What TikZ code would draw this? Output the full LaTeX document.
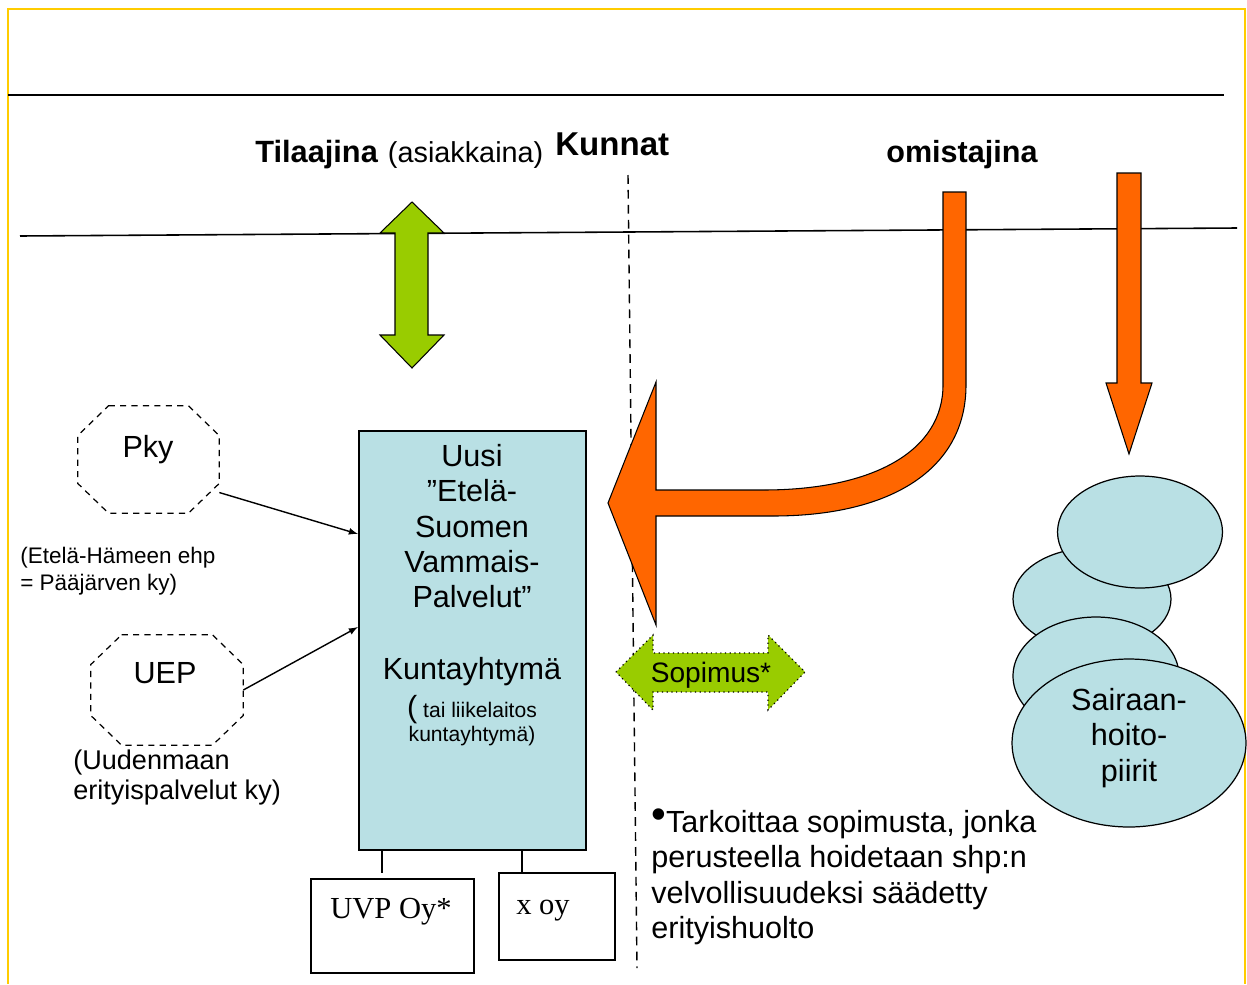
\documentclass[tikz,border=0pt]{standalone}
\usepackage{fontspec}
\setmainfont{Liberation Sans}
\newfontfamily\tnrfont{Liberation Serif}
\usetikzlibrary{shapes.geometric}

\definecolor{frameyellow}{RGB}{255,204,0}
\definecolor{palegreen}{RGB}{153,204,0}
\definecolor{deeporange}{RGB}{255,102,0}
\definecolor{paleblue}{RGB}{185,224,228}

\begin{document}
\begin{tikzpicture}[x=0.02cm,y=-0.02cm,>=latex,
	txt/.style={inner sep=0pt,font=\fontsize{17.4}{20.1}\selectfont},
	octaline/.style={draw,dash pattern=on 3.5pt off 3pt,line width=0.7pt},
	blockarrow/.style={draw,line width=0.6pt},
	conn/.style={->,line width=0.8pt},
	firm/.style={draw,line width=0.8pt},
	hospital/.style={ellipse,draw,fill=paleblue,line width=0.7pt}]
	\useasboundingbox (0,0) rectangle (1247,984);
	\draw[frameyellow,line width=1.2pt] (8,984) -- (8,9) -- (1245,9) -- (1245,984);
	\draw[line width=1.2pt] (8,95) -- (1224,95);
	\draw[line width=0.9pt] (20,236) -- (1237,228);
	\draw[dash pattern=on 5pt off 3.5pt,line width=0.8pt] (628,175) -- (637,968);
	\node[inner sep=0pt,anchor=base west] (tilaajina) at (255,162) {{\fontsize{17.5}{20}\selectfont\bfseries Tilaajina}\hspace{3pt} {\fontsize{16.4}{20}\selectfont(asiakkaina)}};
	\node[inner sep=0pt,anchor=base west,font=\fontsize{18.8}{20}\selectfont\bfseries] (kunnat) at (555,155) {Kunnat};
	\node[inner sep=0pt,anchor=base west,font=\fontsize{17.4}{20}\selectfont\bfseries] (omistajina) at (886,162) {omistajina};
	\draw[blockarrow,fill=palegreen] (412,202) -- (444,233) -- (428,233) -- (428,335) -- (444,335) -- (412,368)
		-- (380,335) -- (395,335) -- (395,233) -- (380,233) -- cycle;
	\draw[blockarrow,fill=deeporange] (1117,173) -- (1141,173) -- (1141,383) -- (1152,383) -- (1129,454)
		-- (1106,383) -- (1117,383) -- cycle;
	\draw[blockarrow,fill=deeporange] (943,192) -- (966,192) -- (966,385) .. controls (966,470) and (890,516) .. (773,516)
		-- (656,516) -- (656,625) -- (608,503) -- (656,382) -- (656,490) -- (763,490)
		.. controls (875,490) and (943,450) .. (943,385) -- cycle;
	\draw[fill=palegreen,dotted,line width=0.7pt] (616,672) -- (653,635) -- (653,653) -- (768,653) -- (768,635) -- (805,672)
		-- (768,710) -- (768,692) -- (653,692) -- (653,710) -- cycle;
	\node[inner sep=0pt,anchor=base,font=\fontsize{16}{16}\selectfont] (sopimus) at (711,682) {Sopimus*};
	\node[draw,fill=paleblue,line width=0.8pt,minimum width=4.54cm,minimum height=8.38cm] (box) at (472.5,640.5) {};
	\node[txt,align=center,anchor=north] (boxtitle) at (472,444) {Uusi\\”Etelä-\\Suomen\\Vammais-\\Palvelut”};
	\node[txt,anchor=base] (boxkind) at (472,679) {Kuntayhtymä};
	\node[inner sep=0pt,align=center,anchor=north,font=\fontsize{12}{13.6}\selectfont] (boxnote) at (472,695)
		{{\fontsize{17.4}{17.4}\selectfont(} tai liikelaitos\\kuntayhtymä)};
	\node[minimum width=2.82cm,minimum height=2.14cm] (pky) at (148.5,459.5) {};
	\node[minimum width=3.04cm,minimum height=2.2cm] (uep) at (167,690) {};
	\foreach \n in {pky,uep}
		\draw[octaline] ([xshift=0.62cm]\n.north west) -- ([xshift=-0.62cm]\n.north east) -- ([yshift=-0.6cm]\n.north east)
			-- ([yshift=0.6cm]\n.south east) -- ([xshift=-0.62cm]\n.south east) -- ([xshift=0.62cm]\n.south west)
			-- ([yshift=0.6cm]\n.south west) -- ([yshift=-0.6cm]\n.north west) -- cycle;
	\node[txt,anchor=base] (pkytext) at (148,457) {Pky};
	\node[txt,anchor=base] (ueptext) at (165,683) {UEP};
	\node[inner sep=0pt,align=left,anchor=north west,font=\fontsize{12.8}{15.3}\selectfont] (pkynote) at (20,547) {(Etelä-Hämeen ehp\\= Pääjärven ky)};
	\node[inner sep=0pt,align=left,anchor=north west,font=\fontsize{15.4}{17}\selectfont] (uepnote) at (73,750) {(Uudenmaan\\erityispalvelut ky)};
	\coordinate (pkyin) at (358,534);
	\coordinate (uepin) at (358,627);
	\draw[conn] (pky.-25) -- (pkyin);
	\draw[conn] (uep.east) -- (uepin);
	\node[firm,minimum width=3.26cm,minimum height=1.88cm] (uvp) at (392.5,926) {};
	\node[inner sep=0pt,anchor=base,font=\tnrfont\fontsize{17.4}{20}\selectfont] (uvptext) at (391,918) {UVP Oy*};
	\node[firm,minimum width=2.32cm,minimum height=1.74cm] (xoy) at (557,916.5) {};
	\node[inner sep=0pt,anchor=base,font=\tnrfont\fontsize{17.4}{20}\selectfont] (xoytext) at (543,914) {x oy};
	\coordinate (uvptop) at (382,873);
	\coordinate (xoytop) at (522,873);
	\draw[firm] (box.south -| uvptop) -- (uvptop);
	\draw[firm] (box.south -| xoytop) -- (xoytop);
	\node[hospital,minimum width=3.16cm,minimum height=2.04cm] (shp2) at (1092,599) {};
	\node[hospital,minimum width=3.3cm,minimum height=2.24cm] (shp1) at (1140,532) {};
	\node[hospital,minimum width=3.32cm,minimum height=2.36cm] (shp3) at (1096,676) {};
	\node[hospital,minimum width=4.68cm,minimum height=3.36cm] (shp4) at (1129,743) {};
	\node[txt,align=center,anchor=north] (shptext) at (1129,688) {Sairaan-\\hoito-\\piirit};
	\node[txt,align=left,anchor=north west] (footnote) at (651,808)
		{\raisebox{2.5pt}{\fontsize{24}{24}\selectfont •}Tarkoittaa sopimusta, jonka\\perusteella hoidetaan shp:n\\velvollisuudeksi säädetty\\erityishuolto};
\end{tikzpicture}
\end{document}
